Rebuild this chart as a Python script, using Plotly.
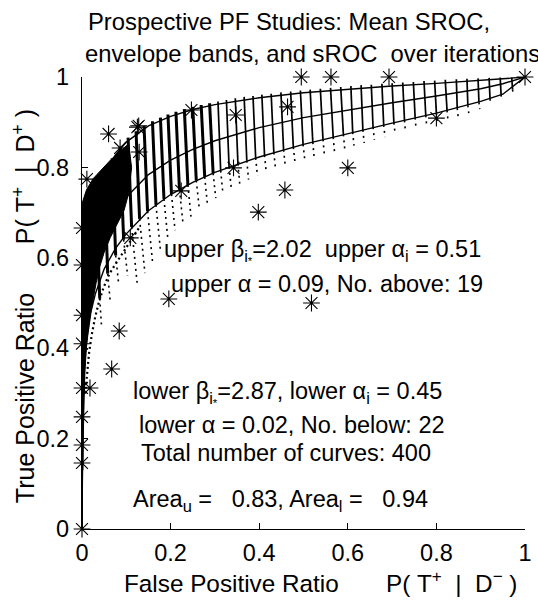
import plotly.graph_objects as go

FONT = "Liberation Sans, Arial, Helvetica, sans-serif"
FS = 23.5
NB = "\u00a0"

# ---- study points (FPR, TPR) ----
study_fpr = [0.495, 0.562, 0.693, 1.000, 0.464, 0.800, 0.600, 0.458, 0.398,
             0.347, 0.247, 0.342, 0.224, 0.109, 0.196, 0.518, 0.084, 0.067, 0.018,
             0.060, 0.125, 0.128, 0.086, 0.129, 0.011, 0.022,
             0.0, 0.0, 0.0, 0.0, 0.0, 0.0, 0.0, 0.0, 0.0]
study_tpr = [1.000, 1.000, 1.000, 1.000, 0.934, 0.909, 0.799, 0.750, 0.701,
             0.916, 0.927, 0.799, 0.748, 0.644, 0.509, 0.500, 0.438, 0.354, 0.312,
             0.874, 0.889, 0.892, 0.843, 0.834, 0.774, 0.706,
             0.666, 0.584, 0.473, 0.410, 0.312, 0.248, 0.186, 0.146, 0.000]

# ---- mean SROC and envelope bands ----
curve_fpr = [0, 0.0005, 0.002, 0.005, 0.01, 0.02, 0.03, 0.05, 0.075, 0.1, 0.15,
             0.2, 0.25, 0.3, 0.4, 0.5, 0.6, 0.7, 0.8, 0.9, 0.95, 1.0]
upper_tpr = [0, 0.30, 0.45, 0.56, 0.62, 0.69, 0.73, 0.78, 0.827, 0.856, 0.892,
             0.913, 0.928, 0.939, 0.954, 0.965, 0.973, 0.980, 0.986, 0.992, 0.996, 1.0]
mean_tpr = [0, 0.18, 0.30, 0.40, 0.47, 0.55, 0.60, 0.655, 0.70, 0.734, 0.784,
            0.816, 0.840, 0.859, 0.888, 0.910, 0.927, 0.943, 0.958, 0.974, 0.985, 1.0]
lower_tpr = [0, 0.16, 0.26, 0.35, 0.41, 0.48, 0.52, 0.575, 0.62, 0.653, 0.704,
             0.740, 0.767, 0.789, 0.823, 0.851, 0.875, 0.898, 0.920, 0.946, 0.962, 1.0]

# ---- dense black cloud of sROC points near the TPR axis ----
cloud_fpr = [0, 0.01, 0.025, 0.045, 0.065, 0.085, 0.105, 0.112, 0.106, 0.095, 0.08,
             0.064, 0.05, 0.04, 0.032, 0.025, 0.018, 0.013, 0.009, 0.006, 0.004,
             0.003, 0.002, 0]
cloud_tpr = [0.72, 0.75, 0.775, 0.797, 0.817, 0.835, 0.852, 0.80, 0.745, 0.705, 0.675,
             0.645, 0.612, 0.58, 0.545, 0.51, 0.47, 0.435, 0.39, 0.335, 0.275,
             0.21, 0.13, 0.13]
# outer fringe of scattered sROC points along the cloud's lower-right edge
fringe_fpr = [0.128, 0.112, 0.095, 0.078, 0.062, 0.049, 0.039, 0.030, 0.022, 0.016, 0.011, 0.007]
fringe_tpr = [0.665, 0.640, 0.615, 0.590, 0.565, 0.535, 0.505, 0.470, 0.430, 0.390, 0.345, 0.295]

# ---- sROC point columns over iterations (top of streak, bottom of dense part, end of sparse dots) ----
col_x_top = [0.032, 0.050, 0.068, 0.086,
             0.104, 0.122, 0.140, 0.159, 0.177, 0.194, 0.212, 0.231, 0.250, 0.269, 0.288,
             0.307, 0.326, 0.346, 0.366, 0.386, 0.406, 0.427, 0.449, 0.471, 0.493, 0.515,
             0.538, 0.561, 0.584, 0.607, 0.630, 0.653, 0.677, 0.700, 0.724, 0.748, 0.772,
             0.796, 0.820, 0.845, 0.869, 0.894, 0.919, 0.944, 0.970]
col_y_top = [0.745, 0.790, 0.820, 0.845,
             0.866, 0.880, 0.892, 0.902, 0.910, 0.917, 0.923, 0.929, 0.934, 0.938, 0.942,
             0.946, 0.949, 0.953, 0.956, 0.958, 0.961, 0.963, 0.966, 0.968, 0.970, 0.972,
             0.974, 0.976, 0.978, 0.980, 0.982, 0.983, 0.985, 0.986, 0.988, 0.989, 0.991,
             0.992, 0.994, 0.995, 0.996, 0.997, 0.998, 0.999, 0.999]
col_x_bot = [0.040, 0.058, 0.076, 0.094,
             0.112, 0.130, 0.148, 0.167, 0.185, 0.202, 0.220, 0.239, 0.258, 0.277, 0.296,
             0.313, 0.332, 0.352, 0.372, 0.392, 0.412, 0.433, 0.455, 0.477, 0.499, 0.521,
             0.544, 0.567, 0.590, 0.611, 0.634, 0.657, 0.681, 0.704, 0.728, 0.752, 0.776,
             0.800, 0.824, 0.847, 0.871, 0.896, 0.921, 0.946, 0.972]
col_y_bot = [0.510, 0.565, 0.605, 0.640,
             0.668, 0.686, 0.703, 0.717, 0.730, 0.741, 0.751, 0.761, 0.771, 0.779, 0.787,
             0.793, 0.801, 0.808, 0.815, 0.821, 0.827, 0.833, 0.839, 0.845, 0.851, 0.856,
             0.862, 0.867, 0.873, 0.878, 0.883, 0.889, 0.894, 0.899, 0.904, 0.910, 0.915,
             0.920, 0.926, 0.931, 0.937, 0.944, 0.952, 0.961, 0.972]
col_x_end = [0.044, 0.064, 0.083, 0.103,
             0.125, 0.142, 0.159, 0.177, 0.194, 0.210, 0.228, 0.246, 0.265, 0.283, 0.302,
             0.318, 0.337, 0.356, 0.376, 0.396, 0.416, 0.437, 0.459, 0.481, 0.503, 0.524,
             0.547, 0.570, 0.593, 0.614, 0.637, 0.660, 0.684, 0.707, 0.730, 0.754, 0.778,
             0.802, 0.826, 0.849, 0.873, 0.898, 0.922, 0.947, 0.973]
col_y_end = [0.450, 0.500, 0.540, 0.560,
             0.538, 0.566, 0.593, 0.617, 0.640, 0.661, 0.676, 0.691, 0.706, 0.719, 0.732,
             0.743, 0.754, 0.764, 0.773, 0.781, 0.788, 0.795, 0.802, 0.809, 0.816, 0.822,
             0.829, 0.835, 0.842, 0.848, 0.854, 0.861, 0.867, 0.873, 0.879, 0.886, 0.892,
             0.898, 0.905, 0.912, 0.920, 0.929, 0.939, 0.951, 0.964]

tick_vals = [0, 0.2, 0.4, 0.6, 0.8, 1]
tick_text = ["0", "0.2", "0.4", "0.6", "0.8", "1"]

# build segment traces (heavier streaks on the left half, lighter on the right)
dense_l_x, dense_l_y, dense_r_x, dense_r_y, sparse_x, sparse_y = [], [], [], [], [], []
for xt, yt, xb, yb, xe, ye in zip(col_x_top, col_y_top, col_x_bot, col_y_bot, col_x_end, col_y_end):
    if xt < 0.3:
        dense_l_x += [xt, xb, None]
        dense_l_y += [yt, yb, None]
    else:
        dense_r_x += [xt, xb, None]
        dense_r_y += [yt, yb, None]
    sparse_x += [xb, xe, None]
    sparse_y += [yb, ye, None]

fig = go.Figure()
fig.add_trace(go.Scatter(x=cloud_fpr, y=cloud_tpr, mode="lines", fill="toself",
                         fillcolor="black", line=dict(color="black", width=1),
                         hoverinfo="skip", showlegend=False))
fig.add_trace(go.Scatter(x=fringe_fpr, y=fringe_tpr, mode="lines",
                         line=dict(color="black", width=2.2, dash="2px,3px"),
                         hoverinfo="skip", showlegend=False))
fig.add_trace(go.Scatter(x=dense_l_x, y=dense_l_y, mode="lines",
                         line=dict(color="black", width=3.0),
                         hoverinfo="skip", showlegend=False))
fig.add_trace(go.Scatter(x=dense_r_x, y=dense_r_y, mode="lines",
                         line=dict(color="black", width=1.7),
                         hoverinfo="skip", showlegend=False))
fig.add_trace(go.Scatter(x=sparse_x, y=sparse_y, mode="lines",
                         line=dict(color="black", width=1.6, dash="2px,4px"),
                         hoverinfo="skip", showlegend=False))
for ys in (upper_tpr, mean_tpr, lower_tpr):
    fig.add_trace(go.Scatter(x=curve_fpr, y=ys, mode="lines",
                             line=dict(color="black", width=1.4),
                             hoverinfo="skip", showlegend=False))
fig.add_trace(go.Scatter(x=study_fpr, y=study_tpr, mode="markers",
                         marker=dict(symbol="asterisk-open", size=14, color="black",
                                     line=dict(color="black", width=1.1)),
                         cliponaxis=False, showlegend=False))

ann_font = dict(family=FONT, size=FS, color="black")
texts = [
    ("upper β<sub>i<sub>*</sub></sub>=2.02" + NB * 2 + "upper α<sub>i</sub> = 0.51", 0.180, 0.614),
    ("upper α = 0.09, No. above: 19", 0.196, 0.543),
    ("lower β<sub>i<sub>*</sub></sub>=2.87, lower α<sub>i</sub> = 0.45", 0.111, 0.300),
    ("lower α = 0.02, No. below: 22", 0.124, 0.229),
    ("Total number of curves: 400", 0.129, 0.169),
    ("Area<sub>u</sub> =" + NB * 3 + "0.83, Area<sub>l</sub> =" + NB * 3 + "0.94", 0.111, 0.063),
]
annotations = []
for t, x, y in texts:
    annotations.append(dict(text=t, x=x, y=y, xref="x", yref="y", xanchor="left",
                            yanchor="middle", showarrow=False, font=ann_font))

title_font = dict(family=FONT, size=23.8, color="black")
annotations += [
    dict(text="Prospective PF Studies: Mean SROC,", x=0.009, y=1.122, xref="paper", yref="paper",
         xanchor="left", yanchor="middle", showarrow=False, font=title_font),
    dict(text="envelope bands, and sROC" + NB * 2 + "over iterations", x=0.002, y=1.052,
         xref="paper", yref="paper", xanchor="left", yanchor="middle", showarrow=False, font=title_font),
    dict(text="False Positive Ratio" + NB * 7 + "P(" + NB + "T<sup>+</sup>" + NB * 2 + "|" + NB * 2
         + "D<sup>−</sup>" + NB + ")", x=0.091, y=-0.117, xref="paper", yref="paper",
         xanchor="left", yanchor="middle", showarrow=False,
         font=dict(family=FONT, size=24.3, color="black")),
    dict(text="True Positive Ratio" + NB * 7 + "P(" + NB + "T<sup>+</sup>" + NB * 2 + "|" + NB * 2
         + "D<sup>+</sup>" + NB + ")", x=-0.131, y=0.493, xref="paper", yref="paper",
         xanchor="center", yanchor="middle", textangle=-90, showarrow=False,
         font=dict(family=FONT, size=25, color="black")),
]

axis_common = dict(range=[0, 1], showline=True, linecolor="black", linewidth=1.2,
                   ticks="inside", ticklen=6, tickwidth=1.2, tickcolor="black",
                   tickvals=tick_vals, ticktext=tick_text, showgrid=False, zeroline=False,
                   tickfont=dict(family=FONT, size=FS, color="black"), mirror=False,
                   fixedrange=True, ticklabeloverflow="allow")

fig.update_layout(
    width=538, height=605,
    margin=dict(l=82, r=6, t=77, b=76, pad=0),
    paper_bgcolor="white", plot_bgcolor="white",
    xaxis=dict(axis_common, ticklabelstandoff=3),
    yaxis=dict(axis_common, ticklabelstandoff=7),
    annotations=annotations,
    showlegend=False,
)

fig.write_html("out.html", config={"displayModeBar": False},
               post_script="document.body.style.margin='0px';")
